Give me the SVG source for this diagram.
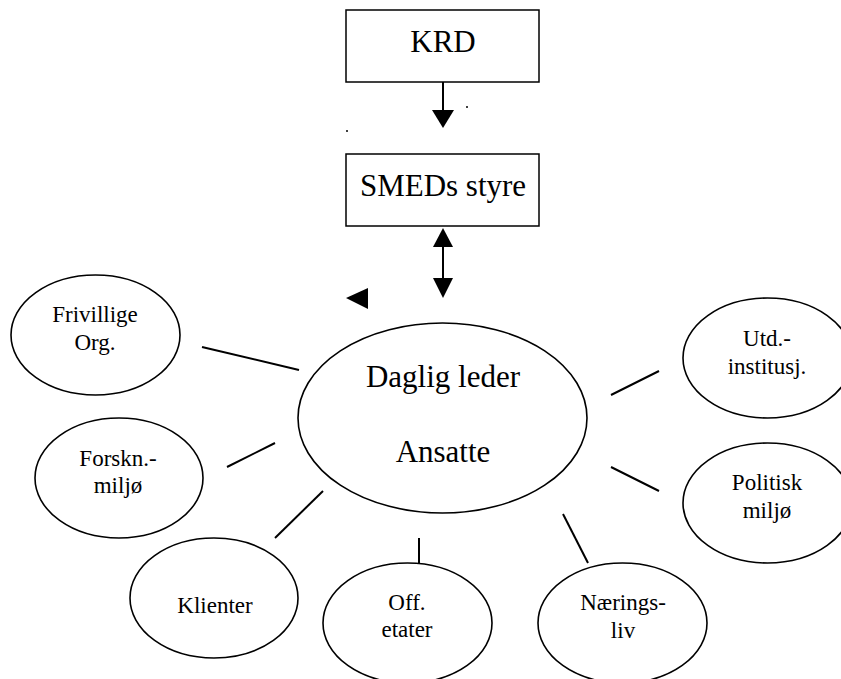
<svg xmlns="http://www.w3.org/2000/svg" width="841" height="679" viewBox="0 0 841 679">
<style>
.box{fill:#fff;stroke:#000;stroke-width:1.5}
.ell{fill:#fff;stroke:#000;stroke-width:1.6}
.con{stroke:#000;stroke-width:2;fill:none}
.head{fill:#000;stroke:none}
</style>
<rect width="841" height="679" fill="#fff"/>
<g id="connectors">
<line class="con" x1="443" y1="82" x2="443" y2="112"/>
<polygon class="head" points="432,110 454,110 443,128"/>
<line class="con" x1="443" y1="245" x2="443" y2="280"/>
<polygon class="head" points="443,228 433,247 453,247"/>
<polygon class="head" points="433,278 453,278 443,298"/>
<polygon class="head" points="346,298 368,288 368,309"/>
<circle class="head" cx="467" cy="107" r="1"/>
<circle class="head" cx="347" cy="131" r="1"/>
<line class="con" x1="202" y1="347" x2="299" y2="370"/>
<line class="con" x1="227" y1="467" x2="275" y2="443"/>
<line class="con" x1="323" y1="491" x2="275" y2="538"/>
<line class="con" x1="419" y1="538" x2="419" y2="563"/>
<line class="con" x1="563" y1="514" x2="588" y2="563"/>
<line class="con" x1="611" y1="395" x2="659" y2="371"/>
<line class="con" x1="611" y1="467" x2="659" y2="491"/>
</g>
<g font-family="Liberation Serif, serif" text-anchor="middle" fill="#000">
<g id="krd">
<rect class="box" x="346" y="10" width="193" height="72"/>
<text font-family="Liberation Serif, serif" font-size="31" x="443" y="52">KRD</text>
</g>
<g id="smeds">
<rect class="box" x="346" y="154" width="193" height="72"/>
<text font-family="Liberation Serif, serif" font-size="31" x="443" y="196">SMEDs styre</text>
</g>
<g id="daglig">
<ellipse class="ell" cx="442.5" cy="418" rx="144.5" ry="95"/>
<text font-family="Liberation Serif, serif" font-size="31" x="443" y="387">Daglig leder</text>
<text font-family="Liberation Serif, serif" font-size="31" x="443" y="462">Ansatte</text>
</g>
<g id="frivillige">
<ellipse class="ell" cx="95.5" cy="335" rx="84.5" ry="60"/>
<text font-family="Liberation Serif, serif" font-size="23" x="95" y="322">Frivillige</text>
<text font-family="Liberation Serif, serif" font-size="23" x="95" y="350">Org.</text>
</g>
<g id="forskn">
<ellipse class="ell" cx="119" cy="478" rx="84" ry="60"/>
<text font-family="Liberation Serif, serif" font-size="23" x="118" y="466">Forskn.-</text>
<text font-family="Liberation Serif, serif" font-size="23" x="118" y="493">miljø</text>
</g>
<g id="klienter">
<ellipse class="ell" cx="214" cy="598" rx="84" ry="60"/>
<text font-family="Liberation Serif, serif" font-size="23" x="215" y="613">Klienter</text>
</g>
<g id="off">
<ellipse class="ell" cx="407.5" cy="623" rx="84.5" ry="60"/>
<text font-family="Liberation Serif, serif" font-size="23" x="407" y="610">Off.</text>
<text font-family="Liberation Serif, serif" font-size="23" x="407" y="637">etater</text>
</g>
<g id="naering">
<ellipse class="ell" cx="622.5" cy="623" rx="84.5" ry="60"/>
<text font-family="Liberation Serif, serif" font-size="23" x="623" y="610">Nærings-</text>
<text font-family="Liberation Serif, serif" font-size="23" x="623" y="638">liv</text>
</g>
<g id="utd">
<ellipse class="ell" cx="767.5" cy="358" rx="84.5" ry="60"/>
<text font-family="Liberation Serif, serif" font-size="23" x="767" y="346">Utd.-</text>
<text font-family="Liberation Serif, serif" font-size="23" x="767" y="374">institusj.</text>
</g>
<g id="politisk">
<ellipse class="ell" cx="767.5" cy="503" rx="84.5" ry="60"/>
<text font-family="Liberation Serif, serif" font-size="23" x="767" y="490">Politisk</text>
<text font-family="Liberation Serif, serif" font-size="23" x="767" y="518">miljø</text>
</g>
</g>
</svg>
